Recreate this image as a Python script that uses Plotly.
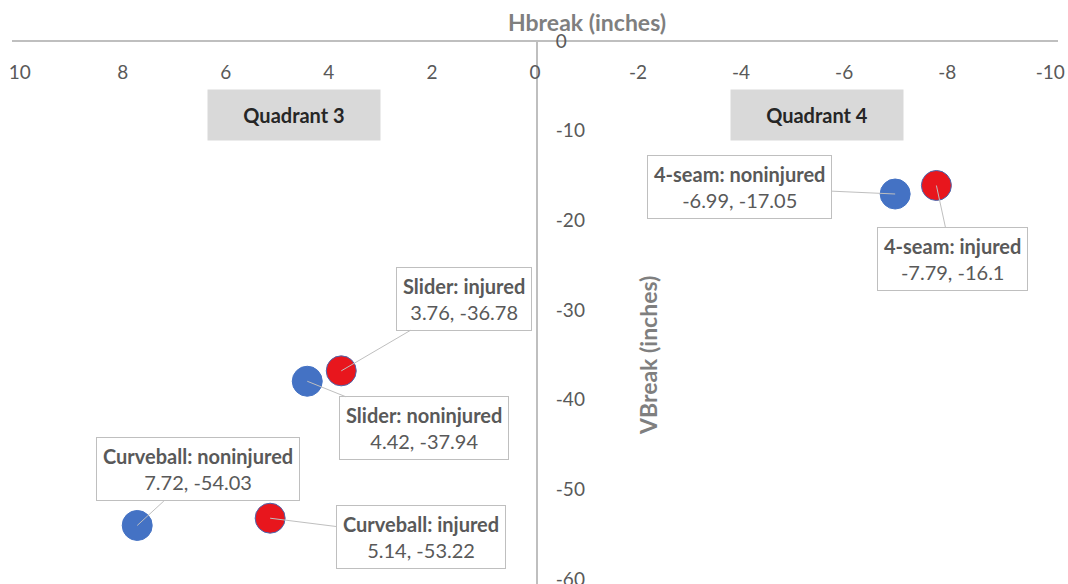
import plotly.graph_objects as go

# ---- data ----
pitch = ["4-seam", "4-seam", "Slider", "Slider", "Curveball", "Curveball"]
group = ["noninjured", "injured", "injured", "noninjured", "noninjured", "injured"]
hbreak = [-6.99, -7.79, 3.76, 4.42, 7.72, 5.14]
vbreak = [-17.05, -16.1, -36.78, -37.94, -54.03, -53.22]
x_ticks = [10, 8, 6, 4, 2, 0, -2, -4, -6, -8, -10]
y_ticks = [0, -10, -20, -30, -40, -50, -60]
quadrants = ["Quadrant 3", "Quadrant 4"]

# label box offsets (pixels from point to box centre)
offsets = [(-156, -7), (16, 74), (123, -72), (117, 47), (61, -56), (151, 19)]

BLUE = "#4472C4"
RED = "#E8161D"
FONT = "Lato, 'Open Sans', sans-serif"
GREY_TXT = "#595959"

W, H = 1068, 600
L, R, T, B = 12, 10, 41, 16
PW, PH = W - L - R, H - T - B


def px(xp):
    return (xp - L) / PW


def py(yp):
    return 1 - (yp - T) / PH


fig = go.Figure()

for g, col in [("noninjured", BLUE), ("injured", RED)]:
    xs = [h for h, gg in zip(hbreak, group) if gg == g]
    ys = [v for v, gg in zip(vbreak, group) if gg == g]
    fig.add_trace(go.Scatter(
        x=xs, y=ys, mode="markers", name=g,
        marker=dict(size=30, color=col,
                    line=dict(color="#4A68B0" if g == "injured" else col, width=1)),
        hoverinfo="skip"))

annotations = []
for p, g, h, v, (ax, ay) in zip(pitch, group, hbreak, vbreak, offsets):
    annotations.append(dict(
        x=h, y=v, xref="x", yref="y",
        text=f"<b>{p}: {g}</b><br>{h:g}, {v:g}",
        showarrow=True, arrowhead=0, arrowwidth=1, arrowcolor="#BFBFBF",
        ax=ax, ay=ay, standoff=0,
        font=dict(family=FONT, size=20, color=GREY_TXT),
        bgcolor="white", bordercolor="#BFBFBF", borderwidth=1, borderpad=6,
        align="center"))

# quadrant labels
for q, xc in zip(quadrants, [294, 817]):
    annotations.append(dict(
        x=px(xc), y=py(115), xref="paper", yref="paper",
        text=f"<b>{q}</b>", showarrow=False,
        font=dict(family=FONT, size=20, color="#262626"),
        bgcolor="#D9D9D9", width=170, height=48,
        xanchor="center", yanchor="middle"))

# axis titles
annotations.append(dict(
    x=px(587), y=py(22), xref="paper", yref="paper",
    text="<b>Hbreak (inches)</b>", showarrow=False,
    font=dict(family=FONT, size=23, color="#7F7F7F"),
    xanchor="center", yanchor="middle"))
annotations.append(dict(
    x=px(648), y=py(356), xref="paper", yref="paper",
    text="<b>VBreak (inches)</b>", showarrow=False, textangle=-90,
    font=dict(family=FONT, size=23, color="#7F7F7F"),
    xanchor="center", yanchor="middle"))

fig.update_layout(
    width=W, height=H,
    margin=dict(l=L, r=R, t=T, b=B),
    paper_bgcolor="white", plot_bgcolor="white",
    showlegend=False,
    font=dict(family=FONT, size=19, color=GREY_TXT),
    annotations=annotations,
    xaxis=dict(
        range=[10.15, -10.15], side="bottom", anchor="free", position=1,
        tickvals=x_ticks, ticktext=[str(t) for t in x_ticks],
        ticklabelstandoff=14, automargin=False,
        showline=True, linecolor="#BFBFBF", linewidth=2,
        showgrid=False, zeroline=False, ticks="",
        tickfont=dict(family=FONT, size=19, color=GREY_TXT)),
    yaxis=dict(
        range=[-60.56, 0.02], tickvals=y_ticks, ticktext=[str(t) for t in y_ticks],
        side="right", anchor="free", position=px(537), ticklabelstandoff=14,
        automargin=False,
        showline=True, linecolor="#BFBFBF", linewidth=2,
        showgrid=False, zeroline=False, ticks="",
        tickfont=dict(family=FONT, size=19, color=GREY_TXT)),
)

fig.write_html(
    "out.html",
    config={"displayModeBar": False},
    post_script="document.body.style.margin='0';document.body.style.overflow='hidden';",
)
